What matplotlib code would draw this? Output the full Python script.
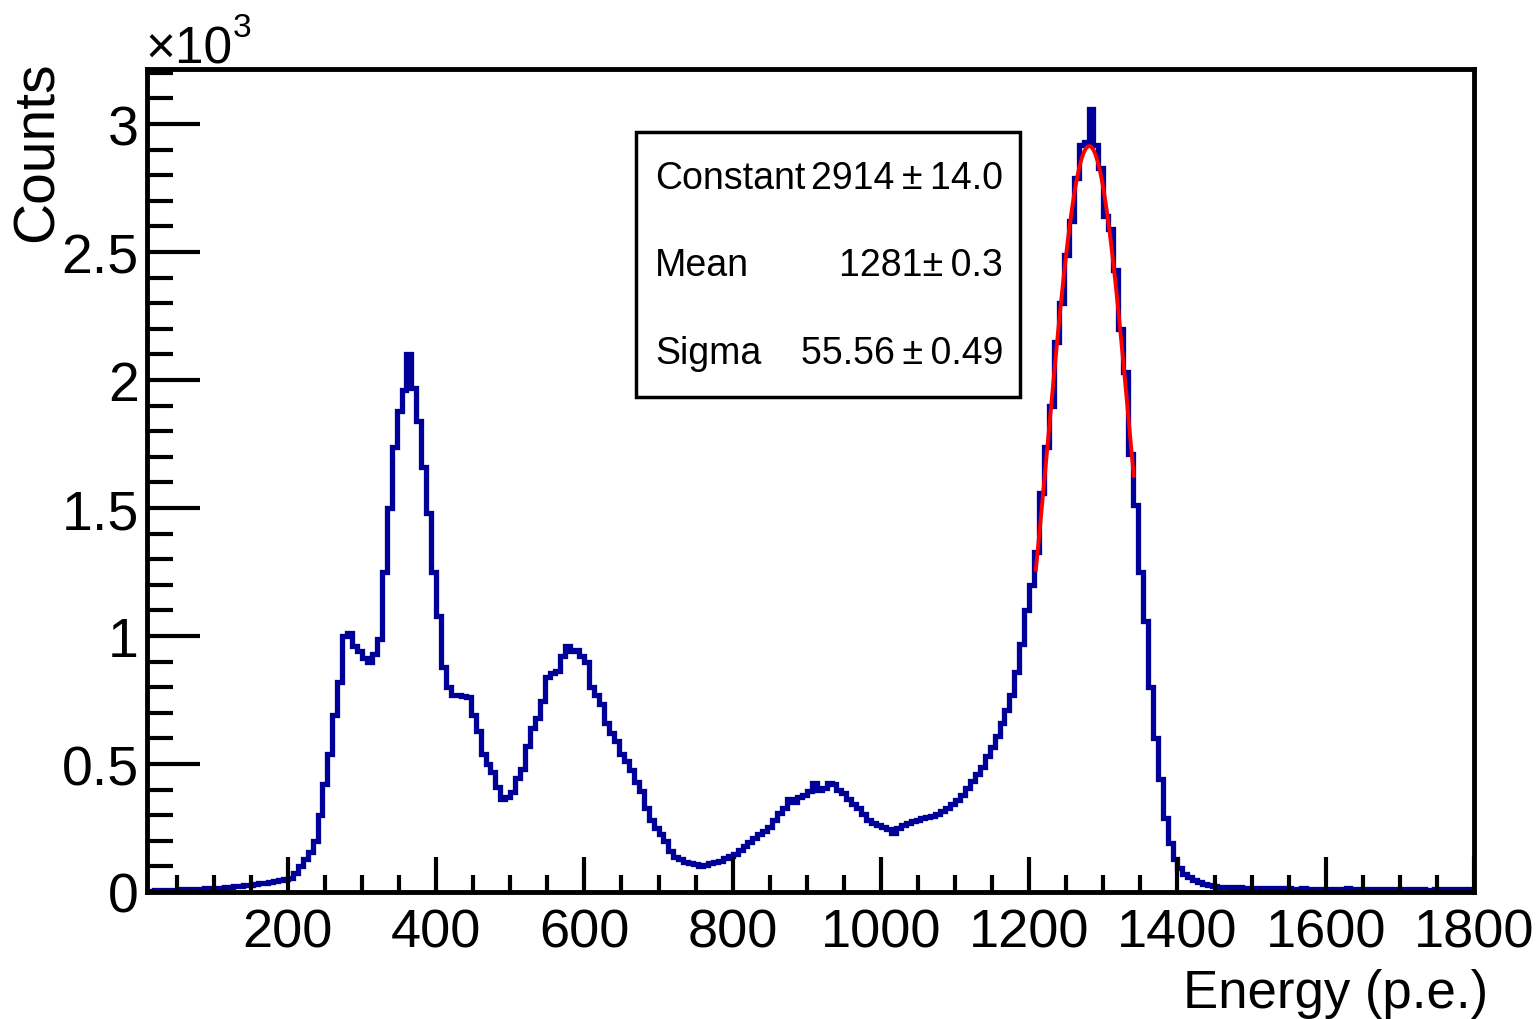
import numpy as np
import matplotlib
matplotlib.use("Agg")
import matplotlib.pyplot as plt
from matplotlib.ticker import MultipleLocator, FuncFormatter
from matplotlib.patches import Rectangle

plt.rcParams['font.family'] = ['Liberation Sans', 'DejaVu Sans']

# ---- data ----
hist_lo = 0.0
hist_hi = 1800.0
counts = [
    # 0-100
    3, 4, 5, 6, 7, 8, 8, 9, 10, 10, 11, 12, 13, 14, 15,
    # 100-200
    16, 17, 19, 20, 22, 24, 27, 29, 31, 34, 36, 39, 42, 46, 50,
    # 200-300
    55, 75, 100, 130, 155, 200, 300, 420, 540, 690, 820, 1000, 1010, 960, 940,
    # 300-400
    915, 900, 930, 990, 1250, 1500, 1740, 1880, 1960, 2100, 1970, 1840, 1660, 1480, 1250,
    # 400-500
    1080, 880, 800, 770, 770, 765, 760, 690, 630, 540, 500, 470, 410, 365, 370,
    # 500-600
    390, 445, 480, 570, 640, 680, 745, 840, 855, 865, 920, 960, 940, 945, 920,
    # 600-700
    900, 800, 770, 735, 660, 620, 590, 540, 510, 475, 430, 395, 330, 280, 250,
    # 700-800
    225, 200, 160, 135, 128, 118, 112, 108, 102, 104, 112, 118, 122, 132, 140,
    # 800-900
    150, 165, 178, 195, 210, 225, 240, 255, 280, 310, 330, 365, 350, 372, 380,
    # 900-1000
    395, 425, 400, 405, 425, 420, 400, 385, 365, 345, 330, 305, 280, 270, 262,
    # 1000-1100
    255, 245, 232, 250, 262, 270, 278, 282, 288, 292, 298, 305, 318, 330, 345,
    # 1100-1200
    360, 380, 405, 435, 460, 490, 530, 565, 610, 660, 710, 770, 860, 970, 1100,
    # 1200-1300
    1200, 1330, 1560, 1740, 1900, 2150, 2300, 2490, 2620, 2790, 2920, 2930, 3060, 2920, 2830,
    # 1300-1400
    2640, 2590, 2430, 2200, 2030, 1710, 1510, 1250, 1060, 800, 600, 440, 290, 190, 130,
    # 1400-1500
    95, 72, 58, 48, 40, 33, 27, 24, 21, 19, 18, 17, 18, 16, 17,
    # 1500-1600
    15, 16, 14, 15, 16, 13, 14, 15, 13, 12, 14, 13, 12, 13, 11,
    # 1600-1700
    12, 13, 11, 12, 14, 11, 10, 12, 11, 10, 9, 11, 10, 9, 10,
    # 1700-1800
    9, 10, 11, 9, 10, 8, 9, 11, 10, 9, 10, 9, 10, 11, 9,
]
fit_constant = 2914
fit_mean = 1281
fit_sigma = 55.56
fit_range = (1209, 1341)
stat_names = ["Constant", "Mean", "Sigma"]
stat_values = ["2914\u2009\u00b1\u200914.0", "1281\u00b1\u20090.3", "55.56\u2009\u00b1\u20090.49"]
x_ticks = [200, 400, 600, 800, 1000, 1200, 1400, 1600, 1800]

edges = np.linspace(hist_lo, hist_hi, len(counts) + 1)

W, H = 1539, 1020
fig = plt.figure(figsize=(W / 100, H / 100), dpi=100)
ax = fig.add_axes([147 / W, 1 - 893 / H, (1474 - 147) / W, (893 - 70) / H])

ax.stairs(counts, edges, color='#000099', linewidth=3.8, baseline=None)
xf = np.linspace(fit_range[0], fit_range[1], 200)
yf = fit_constant * np.exp(-0.5 * ((xf - fit_mean) / fit_sigma) ** 2)
ax.plot(xf, yf, color='#ff0000', linewidth=2.8)

ax.set_xlim(10, 1800)
ax.set_ylim(0, 3215)

for s in ax.spines.values():
    s.set_linewidth(3.5)

ax.xaxis.set_major_locator(plt.FixedLocator(x_ticks))
ax.xaxis.set_minor_locator(MultipleLocator(50))
ax.yaxis.set_major_locator(MultipleLocator(500))
ax.yaxis.set_minor_locator(MultipleLocator(100))
ax.yaxis.set_major_formatter(FuncFormatter(lambda v, p: f"{v/1000:g}"))
ax.tick_params(which='both', direction='in', top=False, right=False, width=3)
ax.tick_params(axis='x', which='major', length=25, labelsize=39, pad=11)
ax.tick_params(axis='x', which='minor', length=12)
ax.tick_params(axis='y', which='major', length=38, labelsize=40, pad=6)
ax.tick_params(axis='y', which='minor', length=19)

# exponent label
fig.text(145 / W, 1 - 64 / H, "\u00d710", fontsize=37, ha='left', va='baseline')
fig.text(233 / W, 1 - 37 / H, "3", fontsize=24, ha='left', va='baseline')

# axis titles
fig.text(38 / W, 1 - 62 / H, "Counts", fontsize=41, rotation=90, ha='center', va='top')
fig.text(1488 / W, 1 - 1008 / H, "Energy (p.e.)", fontsize=38, ha='right', va='baseline')

# stats box
box = Rectangle((636 / W, 1 - 398 / H), (1020 - 636) / W, (398 - 133) / H,
                transform=fig.transFigure, facecolor='white', edgecolor='black',
                linewidth=2.5, zorder=5)
fig.add_artist(box)
row_y = [179, 266, 354]
for name, val, yy in zip(stat_names, stat_values, row_y):
    fig.text(655 / W, 1 - yy / H, name, fontsize=27, ha='left', va='center', zorder=6)
    fig.text(1003 / W, 1 - yy / H, val, fontsize=27, ha='right', va='center', zorder=6)

fig.savefig("out.png", dpi=100)
